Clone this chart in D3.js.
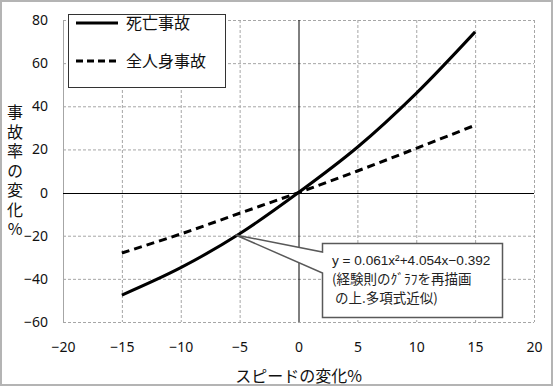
<!DOCTYPE html>
<html>
<head>
<meta charset="utf-8">
<script src="https://cdn.jsdelivr.net/npm/d3@7"></script>
<style>
  body { margin: 0; background: #fff; }
  text { font-family: "Noto Sans CJK JP", "Noto Sans", sans-serif; }
  .tick text { font-family: "Noto Sans", "Liberation Sans", sans-serif; font-size: 14px; fill: #111; }
</style>
</head>
<body>
<svg id="chart" width="555" height="388"></svg>
<script>
// data
var speedChange = [-15, -10, -5, 0, 5, 10, 15];
var fatalAccident = [-47.5, -34.8, -19.1, 0, 21, 46, 74.5];
var allInjuryAccident = [-28, -19.2, -9.6, 0, 10, 20.5, 31.2];
var seriesNames = ['死亡事故', '全人身事故'];
var xTicks = [-20, -15, -10, -5, 0, 5, 10, 15, 20];
var yTicks = [-60, -40, -20, 0, 20, 40, 60, 80];
var yTitle = '事故率の変化%';
var xTitle = 'スピードの変化%';
var noteLines = ['y = 0.061x²+4.054x−0.392', '(経験則のｸﾞﾗﾌを再描画', ' の上.多項式近似)'];

var svg = d3.select('#chart');
var plot = {left: 63, right: 534, top: 20, bottom: 322};

// outer frame
svg.append('rect')
   .attr('x', 1).attr('y', 1)
   .attr('width', 551).attr('height', 384)
   .attr('fill', '#fff')
   .attr('stroke', '#b4b4b4')
   .attr('stroke-width', 2);

var x = d3.scaleLinear().domain([-20, 20]).range([plot.left, plot.right]);
var y = d3.scaleLinear().domain([-60, 80]).range([plot.bottom, plot.top]);

// gridlines
var grid = svg.append('g').attr('stroke', '#a6a6a6').attr('stroke-dasharray', '3,2');
grid.selectAll('.gx').data(xTicks.filter(function (d) { return d !== 0; })).enter().append('line')
   .attr('x1', function (d) { return x(d) + 0.5; })
   .attr('x2', function (d) { return x(d) + 0.5; })
   .attr('y1', plot.top).attr('y2', plot.bottom);
grid.selectAll('.gy').data(yTicks.filter(function (d) { return d !== 0; })).enter().append('line')
   .attr('x1', plot.left).attr('x2', plot.right)
   .attr('y1', function (d) { return y(d) + 0.5; })
   .attr('y2', function (d) { return y(d) + 0.5; });

// left edge of plot area (solid)
svg.append('line')
   .attr('x1', plot.left + 0.5).attr('x2', plot.left + 0.5)
   .attr('y1', plot.top).attr('y2', plot.bottom)
   .attr('stroke', '#a6a6a6');

// axes through zero
svg.append('line')
   .attr('x1', x(0) + 0.5).attr('x2', x(0) + 0.5)
   .attr('y1', plot.top).attr('y2', plot.bottom)
   .attr('stroke', '#000');
svg.append('line')
   .attr('x1', plot.left).attr('x2', plot.right)
   .attr('y1', Math.round(y(0)) + 0.5).attr('y2', Math.round(y(0)) + 0.5)
   .attr('stroke', '#000');

// tick labels
var yAxis = svg.append('g')
   .attr('transform', 'translate(' + plot.left + ',0)')
   .call(d3.axisLeft(y).tickValues(yTicks).tickSize(0).tickPadding(15));
yAxis.select('.domain').remove();

var xAxis = svg.append('g')
   .attr('transform', 'translate(0,' + plot.bottom + ')')
   .call(d3.axisBottom(x).tickValues(xTicks).tickSize(0).tickPadding(20));
xAxis.select('.domain').remove();

// series
var line = d3.line()
   .x(function (d, i) { return x(speedChange[i]); })
   .y(function (d) { return y(d); })
   .curve(d3.curveCatmullRom);

svg.append('path')
   .attr('d', line(fatalAccident))
   .attr('fill', 'none')
   .attr('stroke', '#000')
   .attr('stroke-width', 3);

svg.append('path')
   .attr('d', line(allInjuryAccident))
   .attr('fill', 'none')
   .attr('stroke', '#000')
   .attr('stroke-width', 3)
   .attr('stroke-dasharray', '8,5');

// legend
svg.append('rect')
   .attr('x', 68.5).attr('y', 14.5)
   .attr('width', 157).attr('height', 73)
   .attr('fill', '#fff')
   .attr('stroke', '#333');

var legendItem = svg.selectAll('.legendItem')
   .data(seriesNames)
   .enter().append('g')
   .attr('class', 'legendItem')
   .attr('transform', function (d, i) { return 'translate(0,' + (23 + i * 38) + ')'; });

legendItem.append('line')
   .attr('x1', 76).attr('x2', 118)
   .attr('stroke', '#000')
   .attr('stroke-width', 3)
   .attr('stroke-dasharray', function (d, i) { return i ? '7,4' : null; });

legendItem.append('text')
   .attr('x', 126)
   .attr('dy', '0.35em')
   .style('font-size', '16px')
   .attr('fill', '#111')
   .text(function (d) { return d; });

// axis titles (vertical, one text)
svg.append('text')
   .attr('x', 15)
   .attr('y', 104)
   .style('writing-mode', 'vertical-rl')
   .style('text-orientation', 'upright')
   .style('font-size', '16px')
   .style('letter-spacing', '3.5px')
   .attr('fill', '#111')
   .text(yTitle);

svg.append('text')
   .attr('x', x(0))
   .attr('y', 376)
   .attr('dy', '0.35em')
   .attr('text-anchor', 'middle')
   .style('font-size', '16px')
   .attr('fill', '#111')
   .text(xTitle);

// callout
var tipX = x(-5) - 4, tipY = 235;
svg.append('path')
   .attr('d', 'M322.5,243.5 H502.5 V317.5 H322.5 V273 L' + tipX + ',' + tipY + ' L322.5,252 Z')
   .attr('fill', '#fff')
   .attr('stroke', '#595959')
   .attr('stroke-width', 1.5);

svg.append('g').selectAll('text')
   .data(noteLines)
   .enter().append('text')
   .attr('x', 332)
   .attr('y', function (d, i) { return 265 + i * 19; })
   .style('font-size', function (d, i) { return i ? '13.5px' : '13.6px'; })
   .style('font-family', function (d, i) { return i ? null : '"Liberation Sans", sans-serif'; })
   .style('white-space', 'pre')
   .attr('fill', '#222')
   .text(function (d) { return d; });
</script>
</body>
</html>
